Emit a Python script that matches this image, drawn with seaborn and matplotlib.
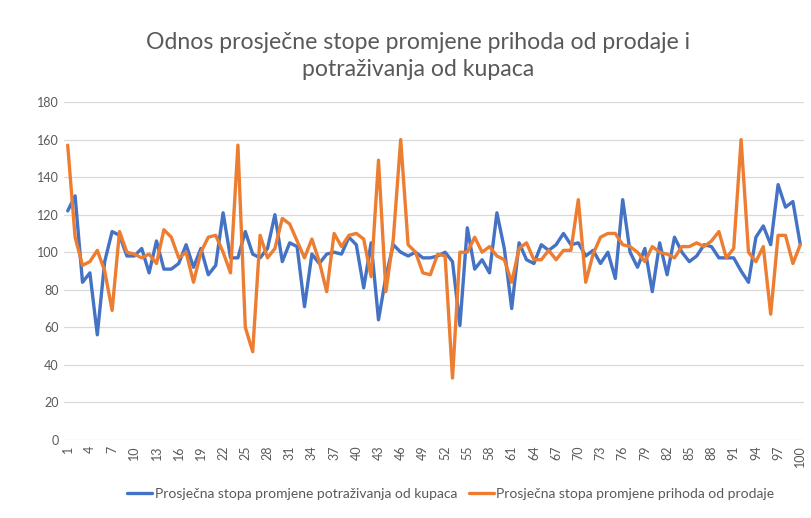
import numpy as np
import pandas as pd
import seaborn as sns
import matplotlib.pyplot as plt

# Periodi 1..100
periodi = list(range(1, 101))

# Prosječna stopa promjene potraživanja od kupaca (plava)
potrazivanja = [122, 130, 84, 89, 56, 95, 111, 109, 98, 98,
                102, 89, 106, 91, 91, 94, 104, 92, 102, 88,
                93, 121, 97, 97, 111, 99, 97, 102, 120, 95,
                105, 103, 71, 99, 94, 99, 100, 99, 108, 104,
                81, 105, 64, 87, 104, 100, 98, 100, 97, 97,
                98, 100, 95, 61, 113, 91, 96, 89, 121, 102,
                70, 105, 96, 94, 104, 101, 104, 110, 104, 105,
                98, 101, 94, 100, 86, 128, 100, 92, 102, 79,
                105, 88, 108, 100, 95, 98, 104, 103, 97, 97,
                97, 90, 84, 108, 114, 104, 136, 124, 127, 104]

# Prosječna stopa promjene prihoda od prodaje (narančasta)
prihodi = [157, 108, 93, 95, 101, 90, 69, 111, 100, 99,
           97, 99, 94, 112, 108, 97, 100, 84, 100, 108,
           109, 100, 89, 157, 60, 47, 109, 97, 102, 118,
           115, 106, 97, 107, 95, 79, 110, 103, 109, 110,
           107, 87, 149, 79, 107, 160, 104, 100, 89, 88,
           99, 98, 33, 100, 100, 108, 100, 103, 98, 96,
           84, 102, 105, 96, 96, 101, 96, 101, 101, 128,
           84, 99, 108, 110, 110, 104, 103, 100, 95, 103,
           100, 99, 97, 103, 103, 105, 103, 106, 111, 97,
           102, 160, 100, 95, 103, 67, 109, 109, 94, 104]

naziv_pot = "Prosječna stopa promjene potraživanja od kupaca"
naziv_pri = "Prosječna stopa promjene prihoda od prodaje"

df = pd.DataFrame({"period": periodi * 2,
                   "vrijednost": potrazivanja + prihodi,
                   "serija": [naziv_pot] * 100 + [naziv_pri] * 100})

sns.set_theme(style="white")
plt.rcParams['font.family'] = ['Lato', 'DejaVu Sans']

fig = plt.figure(figsize=(8.11, 5.18), dpi=100)
ax = fig.add_axes([64 / 811, 1 - 440 / 518, 740 / 811, 338 / 518])

sns.lineplot(data=df, x="period", y="vrijednost", hue="serija",
             palette=["#4472C4", "#ED7D31"], linewidth=2.4, ax=ax, legend=False)

ax.set_xlim(0.5, 100.5)
ax.set_ylim(0, 180)
ax.set_yticks(range(0, 181, 20))
ax.set_xticks(periodi[::3])
ax.set_xticklabels([str(p) for p in periodi[::3]], rotation=90)
ax.tick_params(axis='both', labelsize=9, colors="#595959", length=0, pad=4)
ax.yaxis.grid(True, color="#d9d9d9", linewidth=0.9)
ax.set_axisbelow(True)
for s in ax.spines.values():
    s.set_visible(False)
ax.set_xlabel("")
ax.set_ylabel("")

fig.text(0.515, 1 - 42 / 518, "Odnos prosječne stope promjene prihoda od prodaje i",
         ha="center", va="center", fontsize=16.6, color="#595959")
fig.text(0.515, 1 - 70 / 518, "potraživanja od kupaca",
         ha="center", va="center", fontsize=16.6, color="#595959")

linije = [plt.Line2D([], [], color="#4472C4", linewidth=2.4),
          plt.Line2D([], [], color="#ED7D31", linewidth=2.4)]
fig.legend(linije, [naziv_pot, naziv_pri], loc="center", ncol=2,
           bbox_to_anchor=(0.556, 1 - 494 / 518), frameon=False,
           fontsize=10, labelcolor="#595959", handlelength=1.8,
           handletextpad=0.2, columnspacing=0.8)

fig.savefig("out.png", dpi=100)
